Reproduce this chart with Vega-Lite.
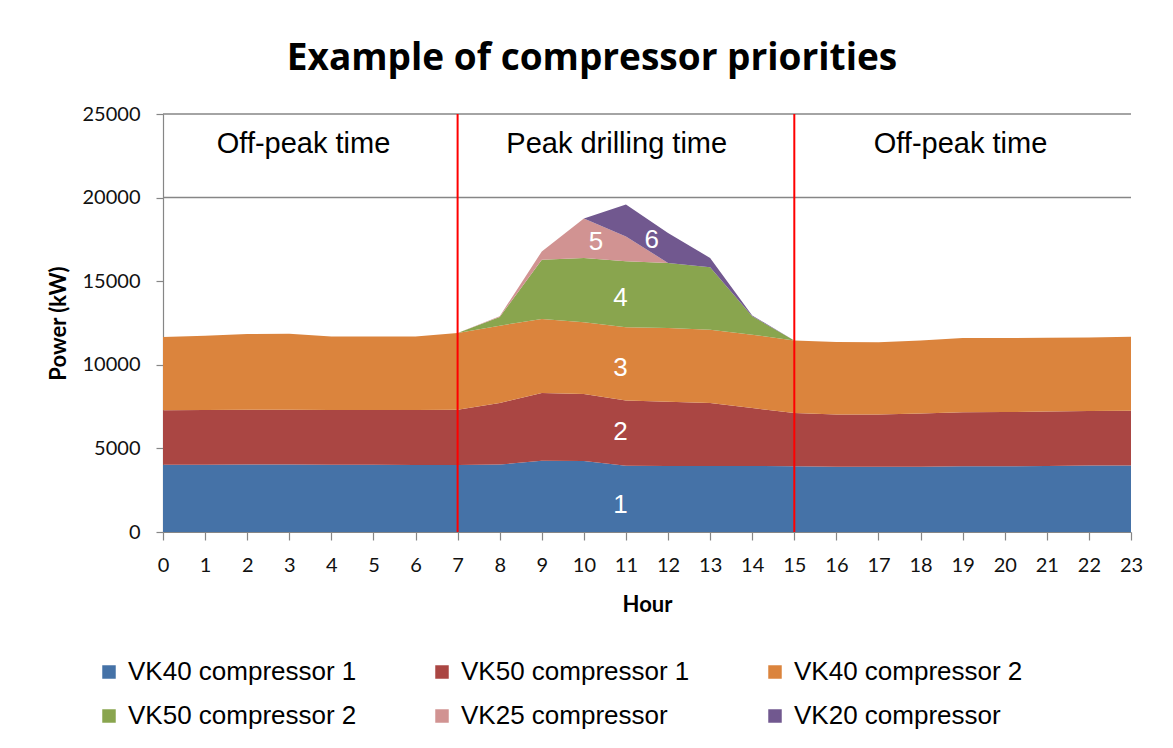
{
  "$schema": "https://vega.github.io/schema/vega-lite/v6.json",
  "width": 968,
  "height": 418,
  "autosize": {"type": "none"},
  "padding": {"left": 163, "top": 114, "right": 42, "bottom": 216},
  "background": "white",
  "title": {"text": "Example of compressor priorities", "font": "Open Sans", "fontWeight": "bold", "fontSize": 37, "color": "#000000", "anchor": "middle", "dx": -55, "offset": 26},
  "config": {"view": {"stroke": null}},
  "datasets": {
    "load": [
      {"hour":0,"compressor":"VK40 compressor 1","rank":1,"power":4020},
      {"hour":1,"compressor":"VK40 compressor 1","rank":1,"power":4020},
      {"hour":2,"compressor":"VK40 compressor 1","rank":1,"power":4030},
      {"hour":3,"compressor":"VK40 compressor 1","rank":1,"power":4030},
      {"hour":4,"compressor":"VK40 compressor 1","rank":1,"power":4020},
      {"hour":5,"compressor":"VK40 compressor 1","rank":1,"power":4020},
      {"hour":6,"compressor":"VK40 compressor 1","rank":1,"power":4010},
      {"hour":7,"compressor":"VK40 compressor 1","rank":1,"power":4000},
      {"hour":8,"compressor":"VK40 compressor 1","rank":1,"power":4030},
      {"hour":9,"compressor":"VK40 compressor 1","rank":1,"power":4260},
      {"hour":10,"compressor":"VK40 compressor 1","rank":1,"power":4240},
      {"hour":11,"compressor":"VK40 compressor 1","rank":1,"power":3965},
      {"hour":12,"compressor":"VK40 compressor 1","rank":1,"power":3950},
      {"hour":13,"compressor":"VK40 compressor 1","rank":1,"power":3950},
      {"hour":14,"compressor":"VK40 compressor 1","rank":1,"power":3950},
      {"hour":15,"compressor":"VK40 compressor 1","rank":1,"power":3930},
      {"hour":16,"compressor":"VK40 compressor 1","rank":1,"power":3910},
      {"hour":17,"compressor":"VK40 compressor 1","rank":1,"power":3900},
      {"hour":18,"compressor":"VK40 compressor 1","rank":1,"power":3910},
      {"hour":19,"compressor":"VK40 compressor 1","rank":1,"power":3925},
      {"hour":20,"compressor":"VK40 compressor 1","rank":1,"power":3930},
      {"hour":21,"compressor":"VK40 compressor 1","rank":1,"power":3950},
      {"hour":22,"compressor":"VK40 compressor 1","rank":1,"power":3970},
      {"hour":23,"compressor":"VK40 compressor 1","rank":1,"power":3980},
      {"hour":0,"compressor":"VK50 compressor 1","rank":2,"power":3260},
      {"hour":1,"compressor":"VK50 compressor 1","rank":2,"power":3280},
      {"hour":2,"compressor":"VK50 compressor 1","rank":2,"power":3280},
      {"hour":3,"compressor":"VK50 compressor 1","rank":2,"power":3280},
      {"hour":4,"compressor":"VK50 compressor 1","rank":2,"power":3280},
      {"hour":5,"compressor":"VK50 compressor 1","rank":2,"power":3280},
      {"hour":6,"compressor":"VK50 compressor 1","rank":2,"power":3290},
      {"hour":7,"compressor":"VK50 compressor 1","rank":2,"power":3310},
      {"hour":8,"compressor":"VK50 compressor 1","rank":2,"power":3685},
      {"hour":9,"compressor":"VK50 compressor 1","rank":2,"power":4050},
      {"hour":10,"compressor":"VK50 compressor 1","rank":2,"power":4010},
      {"hour":11,"compressor":"VK50 compressor 1","rank":2,"power":3905},
      {"hour":12,"compressor":"VK50 compressor 1","rank":2,"power":3840},
      {"hour":13,"compressor":"VK50 compressor 1","rank":2,"power":3765},
      {"hour":14,"compressor":"VK50 compressor 1","rank":2,"power":3465},
      {"hour":15,"compressor":"VK50 compressor 1","rank":2,"power":3190},
      {"hour":16,"compressor":"VK50 compressor 1","rank":2,"power":3125},
      {"hour":17,"compressor":"VK50 compressor 1","rank":2,"power":3130},
      {"hour":18,"compressor":"VK50 compressor 1","rank":2,"power":3180},
      {"hour":19,"compressor":"VK50 compressor 1","rank":2,"power":3230},
      {"hour":20,"compressor":"VK50 compressor 1","rank":2,"power":3240},
      {"hour":21,"compressor":"VK50 compressor 1","rank":2,"power":3250},
      {"hour":22,"compressor":"VK50 compressor 1","rank":2,"power":3260},
      {"hour":23,"compressor":"VK50 compressor 1","rank":2,"power":3270},
      {"hour":0,"compressor":"VK40 compressor 2","rank":3,"power":4380},
      {"hour":1,"compressor":"VK40 compressor 2","rank":3,"power":4440},
      {"hour":2,"compressor":"VK40 compressor 2","rank":3,"power":4530},
      {"hour":3,"compressor":"VK40 compressor 2","rank":3,"power":4550},
      {"hour":4,"compressor":"VK40 compressor 2","rank":3,"power":4400},
      {"hour":5,"compressor":"VK40 compressor 2","rank":3,"power":4400},
      {"hour":6,"compressor":"VK40 compressor 2","rank":3,"power":4400},
      {"hour":7,"compressor":"VK40 compressor 2","rank":3,"power":4590},
      {"hour":8,"compressor":"VK40 compressor 2","rank":3,"power":4625},
      {"hour":9,"compressor":"VK40 compressor 2","rank":3,"power":4430},
      {"hour":10,"compressor":"VK40 compressor 2","rank":3,"power":4290},
      {"hour":11,"compressor":"VK40 compressor 2","rank":3,"power":4370},
      {"hour":12,"compressor":"VK40 compressor 2","rank":3,"power":4410},
      {"hour":13,"compressor":"VK40 compressor 2","rank":3,"power":4385},
      {"hour":14,"compressor":"VK40 compressor 2","rank":3,"power":4385},
      {"hour":15,"compressor":"VK40 compressor 2","rank":3,"power":4340},
      {"hour":16,"compressor":"VK40 compressor 2","rank":3,"power":4325},
      {"hour":17,"compressor":"VK40 compressor 2","rank":3,"power":4320},
      {"hour":18,"compressor":"VK40 compressor 2","rank":3,"power":4370},
      {"hour":19,"compressor":"VK40 compressor 2","rank":3,"power":4445},
      {"hour":20,"compressor":"VK40 compressor 2","rank":3,"power":4430},
      {"hour":21,"compressor":"VK40 compressor 2","rank":3,"power":4420},
      {"hour":22,"compressor":"VK40 compressor 2","rank":3,"power":4410},
      {"hour":23,"compressor":"VK40 compressor 2","rank":3,"power":4430},
      {"hour":0,"compressor":"VK50 compressor 2","rank":4,"power":0},
      {"hour":1,"compressor":"VK50 compressor 2","rank":4,"power":0},
      {"hour":2,"compressor":"VK50 compressor 2","rank":4,"power":0},
      {"hour":3,"compressor":"VK50 compressor 2","rank":4,"power":0},
      {"hour":4,"compressor":"VK50 compressor 2","rank":4,"power":0},
      {"hour":5,"compressor":"VK50 compressor 2","rank":4,"power":0},
      {"hour":6,"compressor":"VK50 compressor 2","rank":4,"power":0},
      {"hour":7,"compressor":"VK50 compressor 2","rank":4,"power":0},
      {"hour":8,"compressor":"VK50 compressor 2","rank":4,"power":520},
      {"hour":9,"compressor":"VK50 compressor 2","rank":4,"power":3550},
      {"hour":10,"compressor":"VK50 compressor 2","rank":4,"power":3850},
      {"hour":11,"compressor":"VK50 compressor 2","rank":4,"power":3950},
      {"hour":12,"compressor":"VK50 compressor 2","rank":4,"power":3890},
      {"hour":13,"compressor":"VK50 compressor 2","rank":4,"power":3730},
      {"hour":14,"compressor":"VK50 compressor 2","rank":4,"power":1100},
      {"hour":15,"compressor":"VK50 compressor 2","rank":4,"power":0},
      {"hour":16,"compressor":"VK50 compressor 2","rank":4,"power":0},
      {"hour":17,"compressor":"VK50 compressor 2","rank":4,"power":0},
      {"hour":18,"compressor":"VK50 compressor 2","rank":4,"power":0},
      {"hour":19,"compressor":"VK50 compressor 2","rank":4,"power":0},
      {"hour":20,"compressor":"VK50 compressor 2","rank":4,"power":0},
      {"hour":21,"compressor":"VK50 compressor 2","rank":4,"power":0},
      {"hour":22,"compressor":"VK50 compressor 2","rank":4,"power":0},
      {"hour":23,"compressor":"VK50 compressor 2","rank":4,"power":0},
      {"hour":0,"compressor":"VK25 compressor","rank":5,"power":0},
      {"hour":1,"compressor":"VK25 compressor","rank":5,"power":0},
      {"hour":2,"compressor":"VK25 compressor","rank":5,"power":0},
      {"hour":3,"compressor":"VK25 compressor","rank":5,"power":0},
      {"hour":4,"compressor":"VK25 compressor","rank":5,"power":0},
      {"hour":5,"compressor":"VK25 compressor","rank":5,"power":0},
      {"hour":6,"compressor":"VK25 compressor","rank":5,"power":0},
      {"hour":7,"compressor":"VK25 compressor","rank":5,"power":0},
      {"hour":8,"compressor":"VK25 compressor","rank":5,"power":50},
      {"hour":9,"compressor":"VK25 compressor","rank":5,"power":490},
      {"hour":10,"compressor":"VK25 compressor","rank":5,"power":2360},
      {"hour":11,"compressor":"VK25 compressor","rank":5,"power":1490},
      {"hour":12,"compressor":"VK25 compressor","rank":5,"power":0},
      {"hour":13,"compressor":"VK25 compressor","rank":5,"power":0},
      {"hour":14,"compressor":"VK25 compressor","rank":5,"power":0},
      {"hour":15,"compressor":"VK25 compressor","rank":5,"power":0},
      {"hour":16,"compressor":"VK25 compressor","rank":5,"power":0},
      {"hour":17,"compressor":"VK25 compressor","rank":5,"power":0},
      {"hour":18,"compressor":"VK25 compressor","rank":5,"power":0},
      {"hour":19,"compressor":"VK25 compressor","rank":5,"power":0},
      {"hour":20,"compressor":"VK25 compressor","rank":5,"power":0},
      {"hour":21,"compressor":"VK25 compressor","rank":5,"power":0},
      {"hour":22,"compressor":"VK25 compressor","rank":5,"power":0},
      {"hour":23,"compressor":"VK25 compressor","rank":5,"power":0},
      {"hour":0,"compressor":"VK20 compressor","rank":6,"power":0},
      {"hour":1,"compressor":"VK20 compressor","rank":6,"power":0},
      {"hour":2,"compressor":"VK20 compressor","rank":6,"power":0},
      {"hour":3,"compressor":"VK20 compressor","rank":6,"power":0},
      {"hour":4,"compressor":"VK20 compressor","rank":6,"power":0},
      {"hour":5,"compressor":"VK20 compressor","rank":6,"power":0},
      {"hour":6,"compressor":"VK20 compressor","rank":6,"power":0},
      {"hour":7,"compressor":"VK20 compressor","rank":6,"power":0},
      {"hour":8,"compressor":"VK20 compressor","rank":6,"power":0},
      {"hour":9,"compressor":"VK20 compressor","rank":6,"power":0},
      {"hour":10,"compressor":"VK20 compressor","rank":6,"power":0},
      {"hour":11,"compressor":"VK20 compressor","rank":6,"power":1900},
      {"hour":12,"compressor":"VK20 compressor","rank":6,"power":1790},
      {"hour":13,"compressor":"VK20 compressor","rank":6,"power":560},
      {"hour":14,"compressor":"VK20 compressor","rank":6,"power":50},
      {"hour":15,"compressor":"VK20 compressor","rank":6,"power":0},
      {"hour":16,"compressor":"VK20 compressor","rank":6,"power":0},
      {"hour":17,"compressor":"VK20 compressor","rank":6,"power":0},
      {"hour":18,"compressor":"VK20 compressor","rank":6,"power":0},
      {"hour":19,"compressor":"VK20 compressor","rank":6,"power":0},
      {"hour":20,"compressor":"VK20 compressor","rank":6,"power":0},
      {"hour":21,"compressor":"VK20 compressor","rank":6,"power":0},
      {"hour":22,"compressor":"VK20 compressor","rank":6,"power":0},
      {"hour":23,"compressor":"VK20 compressor","rank":6,"power":0}
    ],
    "gridlines": [{"power": 20000}, {"power": 25000}],
    "boundaries": [{"hour": 7}, {"hour": 15}],
    "periods": [
      {"label": "Off-peak time", "hour": 3.34, "power": 22670},
      {"label": "Peak drilling time", "hour": 10.78, "power": 22670},
      {"label": "Off-peak time", "hour": 18.95, "power": 22670}
    ],
    "priorities": [
      {"label": "1", "hour": 10.87, "power": 1630},
      {"label": "2", "hour": 10.87, "power": 5960},
      {"label": "3", "hour": 10.87, "power": 9810},
      {"label": "4", "hour": 10.87, "power": 14000},
      {"label": "5", "hour": 10.29, "power": 17350},
      {"label": "6", "hour": 11.61, "power": 17490}
    ]
  },
  "layer": [
    {
      "data": {"name": "load"},
      "mark": {"type": "area", "interpolate": "linear"},
      "encoding": {
        "x": {
          "field": "hour", "type": "quantitative",
          "scale": {"domain": [0, 23], "nice": false, "zero": false},
          "axis": {
            "title": "Hour",
            "values": [0,1,2,3,4,5,6,7,8,9,10,11,12,13,14,15,16,17,18,19,20,21,22,23],
            "grid": false, "labelFlush": false, "labelOverlap": false, "labelBound": false,
            "tickSize": 8, "tickColor": "#868686", "domainColor": "#868686", "domainWidth": 1.2, "tickWidth": 1.2,
            "labelFont": "Lato", "labelFontSize": 20, "labelColor": "#111111", "labelPadding": 15,
            "titleFont": "Lato", "titleFontWeight": "bold", "titleFontSize": 22, "titleColor": "#000000", "titlePadding": 19
          }
        },
        "y": {
          "field": "power", "type": "quantitative", "stack": "zero",
          "scale": {"domain": [0, 25000], "nice": false},
          "axis": {
            "title": "Power (kW)",
            "values": [0, 5000, 10000, 15000, 20000, 25000],
            "format": "d",
            "grid": false, "labelOverlap": false, "labelFlush": false,
            "tickSize": 7, "tickColor": "#868686", "domainColor": "#868686", "domainWidth": 1.2, "tickWidth": 1.2,
            "labelFont": "Lato", "labelFontSize": 20, "labelColor": "#111111", "labelPadding": 16,
            "titleFont": "Lato", "titleFontWeight": "bold", "titleFontSize": 22, "titleColor": "#000000", "titlePadding": 12
          }
        },
        "color": {
          "field": "compressor", "type": "nominal",
          "scale": {
            "domain": ["VK40 compressor 1", "VK50 compressor 1", "VK40 compressor 2", "VK50 compressor 2", "VK25 compressor", "VK20 compressor"],
            "range": ["#4572A7", "#AA4643", "#DB843D", "#89A54E", "#D19392", "#71588F"]
          },
          "legend": {
            "title": null, "orient": "none", "legendX": -67, "legendY": 545,
            "direction": "horizontal", "columns": 3, "columnPadding": 72, "rowPadding": 18,
            "gridAlign": "all", "padding": 0,
            "symbolType": "square", "symbolSize": 182, "symbolStrokeWidth": 0,
            "labelFont": "Liberation Sans", "labelFontSize": 26, "labelColor": "#000000", "labelOffset": 6, "labelLimit": 400
          }
        },
        "order": {"field": "rank", "type": "quantitative"}
      }
    },
    {
      "data": {"name": "gridlines"},
      "mark": {"type": "rule", "color": "#868686", "strokeWidth": 1.5},
      "encoding": {"y": {"field": "power", "type": "quantitative"}}
    },
    {
      "data": {"name": "boundaries"},
      "mark": {"type": "rule", "color": "#FF0000", "strokeWidth": 2},
      "encoding": {"x": {"field": "hour", "type": "quantitative"}}
    },
    {
      "data": {"name": "periods"},
      "mark": {"type": "text", "font": "Liberation Sans", "fontSize": 29, "color": "#000000", "align": "center", "baseline": "alphabetic"},
      "encoding": {
        "x": {"field": "hour", "type": "quantitative"},
        "y": {"field": "power", "type": "quantitative"},
        "text": {"field": "label"}
      }
    },
    {
      "data": {"name": "priorities"},
      "mark": {"type": "text", "font": "Liberation Sans", "fontSize": 26, "color": "#FFFFFF", "align": "center", "baseline": "middle"},
      "encoding": {
        "x": {"field": "hour", "type": "quantitative"},
        "y": {"field": "power", "type": "quantitative"},
        "text": {"field": "label"}
      }
    }
  ]
}
